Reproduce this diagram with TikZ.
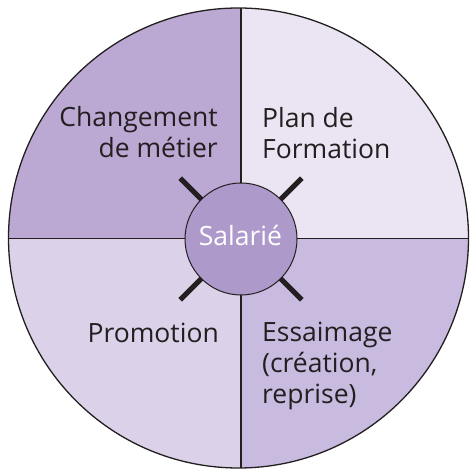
\documentclass[tikz,border=0pt]{standalone}
\usepackage{fontspec}
\setmainfont{Open Sans}
\usetikzlibrary{calc}
\definecolor{ink}{HTML}{231F20}
\definecolor{qtl}{HTML}{BBA9D3}
\definecolor{qtr}{HTML}{EBE4F2}
\definecolor{qbl}{HTML}{DBD1E9}
\definecolor{qbr}{HTML}{C9BBDF}
\definecolor{hub}{HTML}{AE99CB}
\begin{document}
\begin{tikzpicture}[x=1pt,y=1pt,
  lbl/.style={inner sep=0pt, text=ink, font=\fontsize{26.5}{31}\selectfont},
  ray/.style={line width=5pt, draw=ink},
  divider/.style={line width=1.2pt, draw=ink},
  rim/.style={line width=1.3pt, draw=ink}]
\useasboundingbox (0,0) rectangle (469,470);
\coordinate (O) at (238.5,232);
\coordinate (X) at (241,231.5);
\coordinate (T) at (241,470);
\coordinate (B) at (241,0);
\coordinate (L) at (0,231.5);
\coordinate (R) at (469,231.5);
\coordinate (C) at (241,231);
\begin{scope}
  \clip (O) circle (230);
  \fill[qtl] (X) rectangle (0,470);
  \fill[qtr] (X) rectangle (469,470);
  \fill[qbl] (X) rectangle (0,0);
  \fill[qbr] (X) rectangle (469,0);
  \draw[divider] (T) -- (B);
  \draw[divider] (L) -- (R);
\end{scope}
\draw[rim] (O) circle (230);
\foreach \a in {45,135,225,315}
  \draw[ray] ($(C)+(\a:50)$) -- ($(C)+(\a:86)$);
\node[circle, minimum size=112pt, inner sep=0pt, fill=hub, draw=ink, line width=1pt] (S) at (C) {};
\node[lbl, text=white, anchor=base] (SL) at (240.5,224) {Salarié};
\node[lbl, align=right, anchor=base east] (CM) at (218,312) {Changement\\de métier};
\node[lbl, align=left, anchor=base west] (PF) at (262,311) {Plan de\\Formation};
\node[lbl, anchor=base east] (PR) at (219,127) {Promotion};
\node[lbl, align=left, anchor=base west] (ES) at (262,66) {Essaimage\\(création,\\reprise)};
\end{tikzpicture}
\end{document}
